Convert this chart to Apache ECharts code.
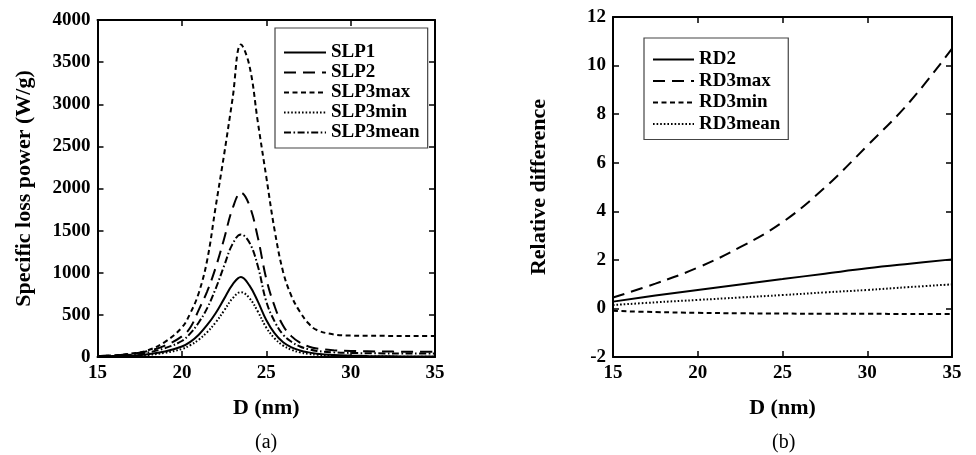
<!DOCTYPE html>
<html>
<head>
<meta charset="utf-8">
<script src="https://cdn.jsdelivr.net/npm/echarts@6/dist/echarts.min.js"></script>
<style>
html,body{margin:0;padding:0;background:#fff;}
#chart{width:976px;height:455px;}
</style>
</head>
<body>
<div id="chart"></div>
<script>
// ---- Panel (a) data ----
var xsA = [15,16,17,18,19,20,20.5,21,21.5,22,22.5,23,23.5,24,24.5,25,25.5,26,26.5,27,27.5,28,29,30,31,32,33,34,35];
var slp1     = [5,9,17,33,65,125,180,265,380,520,690,860,950,850,660,440,280,175,115,78,55,40,25,17,12,9,7,6,5];
var slp2     = [10,20,38,72,135,245,350,560,780,1060,1400,1760,1950,1800,1420,930,600,370,245,170,125,100,80,72,68,65,63,62,62];
var slp3max  = [10,20,40,80,180,350,520,760,1150,1780,2400,3060,3710,3460,2790,2140,1500,1010,720,535,400,320,268,255,252,251,250,250,250];
var slp3min  = [3,6,12,25,50,95,140,205,295,410,550,695,770,700,540,350,220,135,85,55,38,27,15,10,7,5,4,3,3];
var slp3mean = [8,15,28,55,105,190,280,410,580,810,1080,1340,1455,1360,1080,660,420,265,180,125,92,72,55,48,45,43,42,41,40];
var namesA = ['SLP1','SLP2','SLP3max','SLP3min','SLP3mean'];
var yTicksA = [0,4000,500];
// ---- Panel (b) data ----
var xsB = [15,17.5,20,22.5,25,27.5,30,32.5,35];
var rd2    = [0.28,0.53,0.76,0.99,1.21,1.43,1.65,1.84,2.02];
var rd3max = [0.45,1.02,1.68,2.52,3.55,4.98,6.7,8.5,10.7];
var rd3min = [-0.10,-0.15,-0.18,-0.20,-0.21,-0.22,-0.22,-0.23,-0.23];
var rd3mean= [0.14,0.25,0.35,0.45,0.55,0.66,0.76,0.88,0.99];
var namesB = ['RD2','RD3max','RD3min','RD3mean'];
var yTicksB = [-2,12,2];
var xTicks = [15,35,5];

function pairs(xs, ys){ return xs.map(function(x,i){ return [x, ys[i]]; }); }

var FONT = 'Liberation Serif';
function axisCommon(extra){
  var o = {
    type:'value',
    axisLine:{show:true, onZero:false, lineStyle:{color:'#000', width:2}},
    axisTick:{show:true, inside:true, length:6, lineStyle:{color:'#000', width:1.5}},
    splitLine:{show:false},
    axisLabel:{show:true, color:'#000', fontFamily:FONT, fontWeight:'bold', fontSize:19, margin:7,
      formatter:function(v){ return String(v); }}
  };
  for (var k in extra) o[k] = extra[k];
  return o;
}
function mirror(base){
  var o = {};
  for (var k in base) o[k] = base[k];
  o.axisLabel = {show:false};
  o.name = '';
  return o;
}
var nameStyle = {color:'#000', fontFamily:FONT, fontWeight:'bold', fontSize:22};

var xA = axisCommon({gridIndex:0, min:xTicks[0], max:xTicks[1], interval:xTicks[2], position:'bottom',
  name:'D (nm)', nameLocation:'middle', nameGap:40, nameTextStyle:nameStyle});
var xAt = mirror(xA); xAt.position='top';
var yA = axisCommon({gridIndex:0, min:yTicksA[0], max:yTicksA[1], interval:yTicksA[2], position:'left',
  name:'Specific loss power (W/g)', nameLocation:'middle', nameGap:62, nameTextStyle:nameStyle});
var yAr = mirror(yA); yAr.position='right';
var xB = axisCommon({gridIndex:1, min:xTicks[0], max:xTicks[1], interval:xTicks[2], position:'bottom',
  name:'D (nm)', nameLocation:'middle', nameGap:40, nameTextStyle:nameStyle});
var xBt = mirror(xB); xBt.position='top';
var yB = axisCommon({gridIndex:1, min:yTicksB[0], max:yTicksB[1], interval:yTicksB[2], position:'left',
  name:'Relative difference', nameLocation:'middle', nameGap:63, nameTextStyle:nameStyle});
var yBr = mirror(yB); yBr.position='right';

var LONG = [12,7], SHORT = [5,3.5], DOT = [1.6,2], DASHDOT = [7,2.5,1.6,2.5];
function ser(name, xi, yi, data, type){
  return {name:name, type:'line', xAxisIndex:xi, yAxisIndex:yi, data:data, smooth:0.4,
    symbol:'none', showSymbol:false, animation:false,
    lineStyle:{color:'#000', width:2, type:type}, itemStyle:{color:'#000'}};
}

var legendText = {color:'#000', fontFamily:FONT, fontWeight:'bold', fontSize:19};
var legendItem = {color:'rgba(0,0,0,0)', borderWidth:0, opacity:0};
var option = {
  backgroundColor:'#fff',
  animation:false,
  grid:[
    {left:97.5, top:20, width:337.5, height:337, containLabel:false},
    {left:613, top:17, width:339, height:340, containLabel:false}
  ],
  xAxis:[xA, xAt, xB, xBt],
  yAxis:[yA, yAr, yB, yBr],
  legend:[
    {data:namesA, orient:'vertical', left:275, top:28, itemWidth:42, itemHeight:14, itemGap:1,
     padding:[15,8,6,8], borderColor:'#444', borderWidth:1.2, textStyle:legendText, selectedMode:false,
     itemStyle:legendItem},
    {data:namesB, orient:'vertical', left:644, top:38, itemWidth:41, itemHeight:14, itemGap:2.5,
     padding:[12,8,6,8], borderColor:'#444', borderWidth:1.2, textStyle:legendText, selectedMode:false,
     itemStyle:legendItem}
  ],
  graphic:[
    {type:'text', left:255, top:433, style:{text:'(a)', font:'20px "Liberation Serif"', fill:'#000'}},
    {type:'text', left:772, top:433, style:{text:'(b)', font:'20px "Liberation Serif"', fill:'#000'}}
  ],
  series:[
    ser(namesA[0],0,0,pairs(xsA,slp1),'solid'),
    ser(namesA[1],0,0,pairs(xsA,slp2),LONG),
    ser(namesA[2],0,0,pairs(xsA,slp3max),SHORT),
    ser(namesA[3],0,0,pairs(xsA,slp3min),DOT),
    ser(namesA[4],0,0,pairs(xsA,slp3mean),DASHDOT),
    ser(namesB[0],2,2,pairs(xsB,rd2),'solid'),
    ser(namesB[1],2,2,pairs(xsB,rd3max),LONG),
    ser(namesB[2],2,2,pairs(xsB,rd3min),SHORT),
    ser(namesB[3],2,2,pairs(xsB,rd3mean),DOT)
  ]
};
var chart = echarts.init(document.getElementById('chart'), null, {renderer:'canvas'});
chart.setOption(option);
</script>
</body>
</html>
